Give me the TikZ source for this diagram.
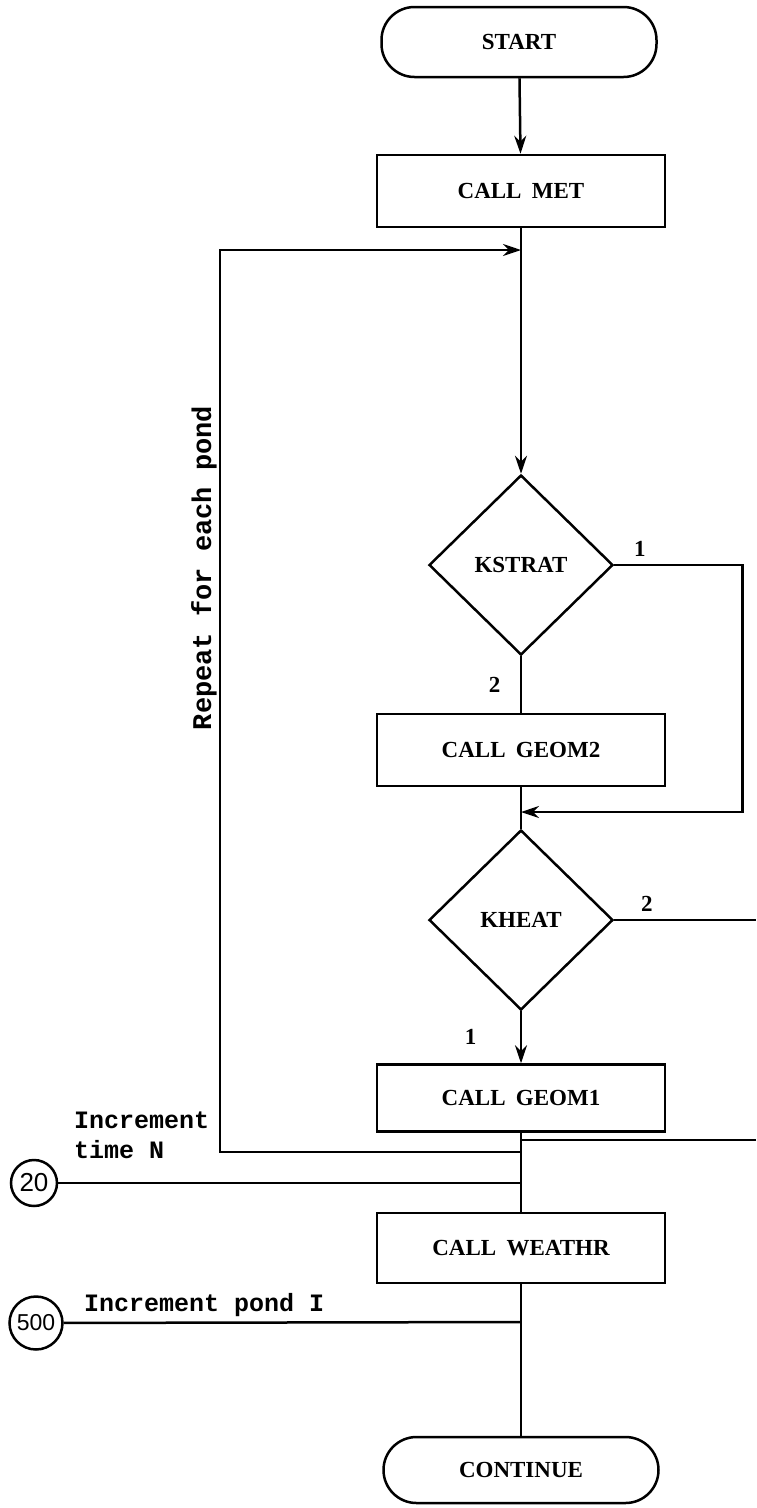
\documentclass[tikz,border=0pt]{standalone}
\usepackage{fontspec}
\setmainfont{Liberation Serif}
\setmonofont{Liberation Mono}
\setsansfont{Liberation Sans}
\usepackage{tikz}
\usetikzlibrary{arrows.meta}
\usetikzlibrary{shapes}
\usetikzlibrary{calc}
\tikzstyle{box} = [draw, line width = 2.5pt, inner sep = 0, font = \bfseries\fontsize{23}{27}\selectfont]
\tikzstyle{terminal} = [box, rounded corners = 33pt, minimum width = 275pt, minimum height = 70pt]
\tikzstyle{process} = [box, minimum width = 288pt, minimum height = 72pt]
\tikzstyle{decision} = [box, diamond, minimum width = 184pt, minimum height = 180pt]
\tikzstyle{connector} = [circle, draw, line width = 2.5pt, inner sep = 0, font = \sffamily\fontsize{26}{30}\selectfont]
\tikzstyle{flow} = [line width = 2.5pt]
\tikzstyle{arrow} = [flow, -{Stealth[length = 18pt, width = 12pt]}]
\tikzstyle{branch} = [font = \bfseries\fontsize{23}{27}\selectfont]
\tikzstyle{note} = [inner sep = 0, font = \ttfamily\bfseries\fontsize{25}{30}\selectfont]
\newcommand\callgap{\hspace{.45em}}

\begin{document}
\begin{tikzpicture}[x = 1pt, y = -1pt]
    \useasboundingbox (0, 0) rectangle (756, 1508);
    % main column
    \node [terminal] (start) at (519, 42) {START};
    \node [process] (met) at (521, 191) {CALL\callgap MET};
    \node [decision] (kstrat) at (521, 565) {KSTRAT};
    \node [process] (geom2) at (521, 750) {CALL\callgap GEOM2};
    \node [decision] (kheat) at (521, 920) {KHEAT};
    \node [process, minimum height = 67pt] (geom1) at (521, 1098) {CALL\callgap GEOM1};
    \node [process, minimum height = 70pt] (weathr) at (521, 1248) {CALL\callgap WEATHR};
    \node [terminal, minimum height = 66pt] (cont) at (521, 1470) {CONTINUE};
    % junctions on the main line and free ends
    \coordinate (loop top) at (521, 250);
    \coordinate (merge) at (521, 812);
    \coordinate (return) at (521, 1140);
    \coordinate (loop end) at (521, 1152);
    \coordinate (time) at (521, 1183);
    \coordinate (pond) at (521, 1322);
    \coordinate (loop left) at (220, 250);
    \coordinate (off high) at (756, 920);
    \coordinate (off low) at (756, 1140);
    % connectors on the page edge
    \node [connector, minimum size = 46pt] (n20) at (34, 1183) {20};
    \node [connector, minimum size = 53pt, font = \sffamily\fontsize{23}{27}\selectfont] (n500) at (36, 1323) {500};

    \draw [arrow] (start) -- (met);
    \draw [arrow] (met) -- (kstrat);
    \draw [flow] (kstrat) -- node [left = 16pt, branch] {2} (geom2);
    \draw [arrow] (kstrat.east) -- node [pos = .2, above = 4pt, branch] {1} ++(128, 0) |- (merge);
    \draw [flow] (geom2) -- (kheat);
    \draw [flow] (kheat.east) -- node [pos = .23, above = 4pt, branch] {2} (off high);
    \draw [arrow] (kheat) -- node [left = 40pt, branch] {1} (geom1);
    \draw [flow] (geom1) -- (weathr);
    \draw [flow] (off low) -- (return);
    \draw [arrow] (loop end) -| (loop left) -- (loop top);
    \draw [flow] (n20) -- (time);
    \draw [flow] (weathr) -- (cont);
    \draw [flow] (n500) -- (pond);

    % notes
    \node [note, rotate = 90, font = \ttfamily\bfseries\fontsize{27}{32}\selectfont] (repeat) at (204, 568) {Repeat for each pond};
    \node [note, anchor = north west, align = left] (time note) at (74, 1112) {Increment\\time N};
    \node [note, anchor = base west] (pond note) at (84, 1311) {Increment pond I};
\end{tikzpicture}
\end{document}
